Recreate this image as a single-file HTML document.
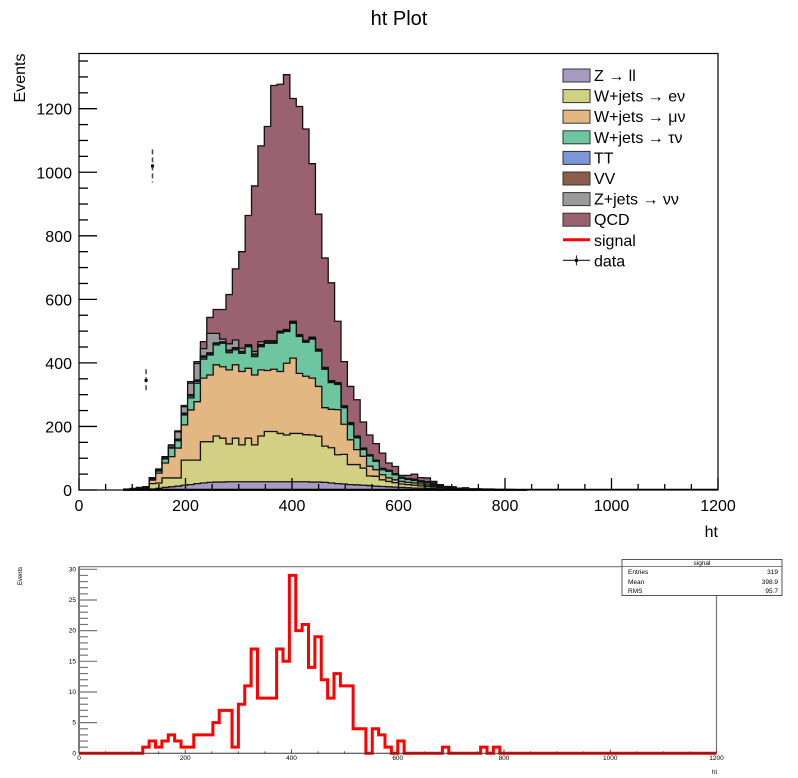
<!DOCTYPE html>
<html><head><meta charset="utf-8">
<style>
html,body{margin:0;padding:0;background:#fff;}
svg{display:block;font-family:"Liberation Sans",sans-serif;}
</style></head>
<body>
<svg id="c" width="798" height="778" viewBox="0 0 798 778" xmlns="http://www.w3.org/2000/svg">
<text x="399" y="25" font-size="20" text-anchor="middle">ht Plot</text>
<text transform="translate(25,78) rotate(-90)" font-size="16" text-anchor="middle">Events</text>
<text x="718" y="537" font-size="16" text-anchor="end">ht</text>
<g id="main"></g>
<g id="lower"></g>
<text transform="translate(22,576) rotate(-90)" font-size="6" text-anchor="middle">Events</text>
<text x="717" y="774" font-size="6" text-anchor="end">ht</text>
<g>
<rect x="622" y="559.5" width="160" height="36" fill="#fff" stroke="#555" stroke-width="1"/>
<line x1="622" y1="566.5" x2="782" y2="566.5" stroke="#555" stroke-width="0.8"/>
<text x="702" y="565" font-size="6.5" text-anchor="middle">signal</text>
<text x="628" y="574" font-size="6.5">Entries</text><text x="778" y="574" font-size="6.5" text-anchor="end">319</text>
<text x="628" y="584" font-size="6.5">Mean</text><text x="778" y="584" font-size="6.5" text-anchor="end">398.9</text>
<text x="628" y="593" font-size="6.5">RMS</text><text x="778" y="593" font-size="6.5" text-anchor="end">95.7</text>
</g>
</svg>
<script>
// ---- main stack data (bins of width 12, starting at bin index 7 -> ht=84) ----
const binWidth = 12;
const startBin = 7;
const zll   = [0,0,1,2,3,5,8,10,12,15,17,20,22,24,25,25,26,26,26,26,26,26,26,26,26,26,26,26,26,25,25,24,22,20,19,17,16,15,14,12,11,10,9,8,7,6,6,5,5,4,3,3,2,2,1,1,1,1,1,1,1,1,1];
const wenu  = [1,1,1,3,17,17,30,28,26,79,77,74,130,128,145,138,119,137,116,137,116,144,158,158,152,147,152,152,148,148,144,114,111,91,93,63,64,54,30,31,21,17,14,11,10,9,7,6,5,4,2,2,1,0,0,0,0,0,0,0,0,0,0];
const wmunu = [0,1,2,3,11,31,47,67,94,111,158,184,200,210,224,225,233,231,231,220,220,208,192,196,195,226,237,189,184,179,157,121,121,142,95,78,47,37,31,21,16,11,9,8,7,7,6,5,4,3,2,1,1,0,0,0,0,0,0,0,0,0,0];
const wtaunu= [0,0,1,1,4,7,13,27,23,31,38,58,60,63,63,74,54,47,57,68,58,73,86,82,121,100,110,116,107,123,111,121,84,79,52,48,37,21,32,26,16,21,16,10,9,8,6,6,4,2,1,1,1,0,0,0,0,0,0,0,0,0,0];
const ttbar = [0,0,0,0,1,1,1,2,3,4,6,6,6,4,4,2,5,4,4,2,5,4,2,2,2,2,2,2,2,2,2,2,2,2,2,2,2,1,1,1,1,1,1,1,1,2,2,2,2,1,1,1,0,0,0,0,0,0,0,0,0,0,0];
const vv    = [0,0,0,0,0,1,1,1,2,2,4,4,4,3,2,2,3,3,2,1,3,3,2,2,1,1,1,1,1,1,1,1,1,1,1,1,1,1,1,1,1,1,1,1,1,1,1,1,1,1,1,0,0,0,0,0,0,0,0,0,0,0,0];
const znunu = [1,1,1,1,2,3,4,6,23,20,36,52,23,61,30,9,20,24,10,3,8,9,4,4,3,3,3,3,3,3,3,3,3,3,3,3,3,3,2,2,2,1,1,1,1,1,1,1,1,1,1,1,0,1,0,0,0,0,0,0,0,0,0];
const qcd   = [1,2,2,0,1,1,1,1,3,4,5,6,22,50,75,93,155,224,304,407,521,616,674,803,777,802,701,718,665,546,425,344,308,193,139,114,114,82,62,52,48,23,23,6,10,16,10,12,5,1,0,1,1,4,3,3,2,2,1,1,1,0,0];
const layers = [zll,wenu,wmunu,wtaunu,ttbar,vv,znunu,qcd];
const layerNames = ['z-ll','w-enu','w-munu','w-taunu','tt','vv','z-nunu','qcd'];
const layerColors = ['#a79bc2','#d1d083','#e2b782','#6dc6a0','#7b97d7','#8a5d4c','#9a9a9a','#9a6270'];
const legendLabels = ['Z \u2192 ll','W+jets \u2192 e\u03bd','W+jets \u2192 \u03bc\u03bd','W+jets \u2192 \u03c4\u03bd','TT','VV','Z+jets \u2192 \u03bd\u03bd','QCD','signal','data'];
const dataX = [126,138];
const dataY = [345,1020];
const dataErr = [35,52];
const xTicks = [0,200,400,600,800,1000,1200];
const yTicks = [0,200,400,600,800,1000,1200];
// ---- signal data ----
const sigStart = 120;
const signal = [1,2,1,2,3,2,1,1,3,3,3,5,7,7,1,8,11,17,9,9,9,17,15,29,20,21,14,19,12,9,13,11,11,4,4,0,4,3,1,0,2,0,0,0,0,0,0,1,0,0,0,0,0,1,0,1];
const lowYTicks = [0,5,10,15,20,25,30];
const lowXTicks = [0,200,400,600,800,1000,1200];

const NS='http://www.w3.org/2000/svg';
function mk(tag,attrs,parent){const e=document.createElementNS(NS,tag);for(const k in attrs)e.setAttribute(k,attrs[k]);parent.appendChild(e);return e;}
const X0=79,X1=718,MY0=490,MYT=53.5;
function X(v){return X0+v*(X1-X0)/1200;}
function Y(v){return MY0-v*(490-108.7)/1200;}
const LY0=753.3,LYT=566.7;
function LY(v){return LY0-v*(753.3-569.3)/30;}

const main=document.getElementById('main');
// stacked: draw from top cumulative to bottom
const n=zll.length;
const cum=[];let run=new Array(n).fill(0);
for(let k=0;k<layers.length;k++){run=run.map((r,i)=>r+layers[k][i]);cum.push(run.slice());}
for(let k=layers.length-1;k>=0;k--){
  let d='M'+X(startBin*binWidth)+','+Y(0);
  for(let i=0;i<n;i++){const lo=(startBin+i)*binWidth;d+=' L'+X(lo)+','+Y(cum[k][i])+' L'+X(lo+binWidth)+','+Y(cum[k][i]);}
  d+=' L'+X((startBin+n)*binWidth)+','+Y(0)+' Z';
  const p=mk('path',{d:d,fill:layerColors[k],stroke:'#111','stroke-width':1.3,'stroke-linejoin':'miter'},main);
  
  
}
// baseline line
mk('line',{x1:X(96),y1:MY0-0.5,x2:X1,y2:MY0-0.5,stroke:'#000','stroke-width':1.5},main);
// data points
for(let i=0;i<dataX.length;i++){
  const g=mk('g',{},main);
  
  
  mk('line',{x1:X(dataX[i]),x2:X(dataX[i]),y1:Y(dataY[i]+dataErr[i]),y2:Y(dataY[i]-dataErr[i]),stroke:'#444','stroke-width':1.5,'stroke-dasharray':'5,3'},g);
  mk('rect',{x:X(dataX[i])-1.5,y:Y(dataY[i])-1.5,width:3,height:3,fill:'#000'},g);
}
// frame
const fr=mk('rect',{x:X0,y:MYT,width:X1-X0,height:MY0-MYT,fill:'none',stroke:'#000','stroke-width':1.2},main);


// y ticks
for(let v=0;v<=1350;v+=50){const maj=v%200===0;mk('line',{x1:X0,x2:X0+(maj?18:9),y1:Y(v),y2:Y(v),stroke:'#000','stroke-width':1.3},main);}
for(const v of yTicks){const t=mk('text',{x:X0-7,y:Y(v)+6,'font-size':16,'text-anchor':'end'},main);t.textContent=v;
  
  }
// x ticks
for(let v=0;v<=1200;v+=50){const maj=v%200===0;mk('line',{x1:X(v),x2:X(v),y1:MY0,y2:MY0-(maj?12:6),stroke:'#000','stroke-width':1.3},main);}
for(const v of xTicks){const t=mk('text',{x:X(v),y:511,'font-size':16,'text-anchor':'middle'},main);t.textContent=v;
  
  }
// legend
const lg=mk('g',{},main);


for(let i=0;i<legendLabels.length;i++){
  const cy=75+i*20.6;
  const e=mk('g',{},lg);
  
  
  if(i<8){mk('rect',{x:563,y:cy-6,width:27,height:13,fill:layerColors[i],stroke:'#333','stroke-width':1},e);}
  else if(i===8){mk('line',{x1:563,x2:590,y1:cy,y2:cy,stroke:'#f00','stroke-width':3},e);}
  else{mk('line',{x1:563,x2:590,y1:cy,y2:cy,stroke:'#333','stroke-width':1.2},e);mk('line',{x1:576.5,x2:576.5,y1:cy-5,y2:cy+5,stroke:'#333','stroke-width':1.2},e);mk('rect',{x:575,y:cy-1.5,width:3,height:3,fill:'#000'},e);}
  const t=mk('text',{x:594,y:cy+6,'font-size':16},e);t.textContent=legendLabels[i];
}

// ---- lower plot ----
const low=document.getElementById('lower');
const LX1=716.5;
function LX(v){return X0+v*(LX1-X0)/1200;}
mk('line',{x1:X0,y1:LYT,x2:LX1,y2:LYT,stroke:'#777','stroke-width':1.2},low);
mk('line',{x1:LX1,y1:LYT,x2:LX1,y2:LY0,stroke:'#777','stroke-width':1.2},low);
mk('line',{x1:X0,y1:LYT,x2:X0,y2:LY0,stroke:'#333','stroke-width':1.3},low);
for(let v=0;v<=30;v++){const maj=v%5===0;mk('line',{x1:X0,x2:X0+(maj?18:9),y1:LY(v),y2:LY(v),stroke:'#777','stroke-width':1.2},low);}
for(const v of lowYTicks){const t=mk('text',{x:X0-3,y:LY(v)+2,'font-size':6.5,'text-anchor':'end'},low);t.textContent=v;
  
  }
for(let v=0;v<=1200;v+=50){const maj=v%200===0;mk('line',{x1:LX(v),x2:LX(v),y1:LY0,y2:LY0-(maj?4:2),stroke:'#555','stroke-width':1},low);}
for(const v of lowXTicks){const t=mk('text',{x:LX(v),y:760,'font-size':6.5,'text-anchor':'middle'},low);t.textContent=v;
  
  }
let sd='M'+LX(0)+','+LY(0)+' L'+LX(sigStart)+','+LY(0);
for(let i=0;i<signal.length;i++){const lo=sigStart+i*binWidth;sd+=' L'+LX(lo)+','+LY(signal[i])+' L'+LX(lo+binWidth)+','+LY(signal[i]);}
sd+=' L'+LX(sigStart+signal.length*binWidth)+','+LY(0)+' L'+LX(1200)+','+LY(0);
const sp=mk('path',{d:sd,fill:'none',stroke:'#f00','stroke-width':3},low);


mk('line',{x1:X0,y1:LY0,x2:LX1,y2:LY0,stroke:'#333','stroke-width':1},low);
</script>
</body></html>
